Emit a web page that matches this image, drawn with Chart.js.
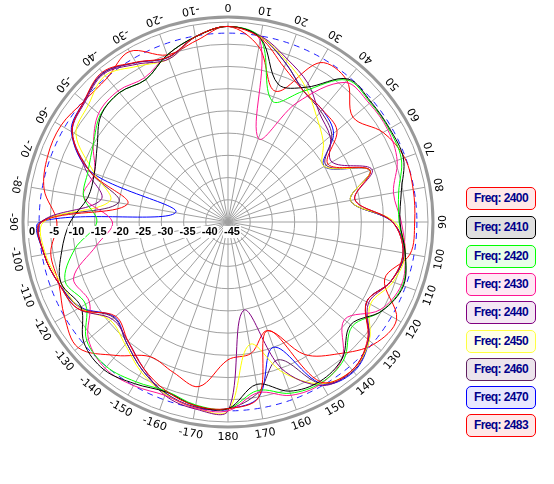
<!DOCTYPE html>
<html>
<head>
<meta charset="utf-8">
<script src="https://cdn.jsdelivr.net/npm/chart.js@4/dist/chart.umd.min.js"></script>
<style>
  body { margin: 0; background: #fff; font-family: "DejaVu Sans", sans-serif; }
  #wrap { position: relative; width: 554px; height: 484px; }
  #polar { position: absolute; left: 0; top: 0; }
  .leg { position: absolute; left: 466px; width: 68px; height: 21px; border: 1px solid; border-radius: 5px;
         font: bold 12px "Liberation Sans", Arial, sans-serif; color: #00008b; line-height: 21px; text-align: center; letter-spacing: -0.6px; }
</style>
</head>
<body>
<div id="wrap">
  <canvas id="polar" width="456" height="444"></canvas>
</div>
<script>
// angles, clockwise from top
const angles = [0,10,20,30,40,50,60,70,80,90,100,110,120,130,140,150,160,170,180,
  -170,-160,-150,-140,-130,-120,-110,-100,-90,-80,-70,-60,-50,-40,-30,-20,-10];
const radialTicks = [0,-5,-10,-15,-20,-25,-30,-35,-40,-45];
const freqs = ['Freq: 2400','Freq: 2410','Freq: 2420','Freq: 2430','Freq: 2440','Freq: 2450','Freq: 2460','Freq: 2470','Freq: 2483'];

const f2400 = [-1,-3,-8,-11,-12,-13,-19,-11,-16,-8,-5,-6,-9,-4,-1.5,-3.5,-19,-5,-3,-3,-4.5,-7,-10,-12,-6,-4.5,-3,-3,-22,-12,-4.5,-2.7,-1,-3.5,-5.5,-2.7];
const f2410 = [-1,-3,-12,-10,-3,-3,-3,-3,-5.4,-6.3,-4.5,-3,-5,-9,-5,-3.6,-4.5,-7.9,-3,-3,-4.3,-3,-1.6,-2.7,-6.8,-5,-7,-9.5,-13,-13,-11,-7.7,-7,-8,-5,-2.7];
const f2420 = [-1,-3,-16,-11,-3.3,-3.2,-3.2,-3.5,-6,-6.5,-4.5,-3.2,-5,-8.5,-4.5,-3.2,-4,-6.5,-3,-3.2,-4.5,-3.5,-2.5,-3.5,-8,-6,-10,-15.5,-12,-11.5,-10,-7.5,-7,-8,-5,-2.7];
const f2430 = [-1,-3.5,-25,-14,-4,-3.5,-3.5,-4.5,-7.2,-6,-4.5,-3.5,-5.5,-10.8,-5,-3,-3.5,-6,-2.5,-2.5,-3.5,-2.5,-2,-4,-9,-8,-15,-19,-12,-13,-10,-7,-6.5,-7.5,-5,-2.7];
const f2440 = [-1,-2.5,-6,-9,-13,-15,-18,-10.5,-16,-8,-5,-6,-8.5,-3.8,-1.5,-2.5,-10,-24.8,-2.5,-2.3,-3.5,-7,-10,-11,-6,-4.5,-3,-3,-16,-11,-4.5,-3,-1.5,-4,-6,-2.7];
const f2450 = [-1,-2.7,-6.5,-10,-14,-17,-20,-11,-17,-7.5,-4.5,-5.5,-8,-3.5,-1.5,-3,-9,-17,-2.5,-2.5,-3.8,-6,-9,-10.5,-6.5,-5,-3.3,-3.5,-18,-13,-5.5,-4,-2,-4.5,-6,-2.7];
const f2460 = [-1,-2.7,-7,-11,-12.5,-14.5,-19.5,-11,-17,-8,-4.7,-6,-9,-3.7,-1.2,-3,-12,-6,-3,-2.7,-4,-6.5,-9.5,-11.5,-6.5,-4.5,-3,-2.8,-20,-12,-4.5,-2.8,-1.3,-3.6,-5.6,-2.7];
const f2470 = [-1,-2.7,-7,-11,-12,-14,-20,-11,-17,-8,-4.7,-6,-9,-3.6,-1,-3,-15,-5,-3,-2.7,-4,-6.5,-9.5,-11.7,-6.7,-4.5,-3,-2.7,-33,-12.4,-4.3,-2.7,-1.2,-3.6,-5.6,-2.7];
const f2483 = [-1,-5,-13.7,-3.6,-3.4,-8.3,-4.7,-2.7,-2.7,-3,-3.4,-7.5,-1.2,-2.2,-6.3,-10.6,-19,-15,-14,-7.4,-9,-10,-5.8,-1,-2.5,-4.5,-4.5,-6.5,-3,-1.8,-1.6,-2.7,-2.7,-0.7,-5,-3.6];

const series = [f2400,f2410,f2420,f2430,f2440,f2450,f2460,f2470,f2483];
const lineColors = ['#ff0000','#000000','#00ff00','#ff1493','#800080','#ffff00','#602060','#0000ff','#ff0000'];
const boxBg = ['#ffe8e8','#e0e0e0','#e8ffe8','#ffe8f4','#f4e8f4','#ffffe8','#ece4ec','#e8e8ff','#ffe8e8'];
const boxTop = [187,216,245,273,301,330,358,386,414];

const wrap = document.getElementById('wrap');
freqs.forEach((name, i) => {
  const d = document.createElement('div');
  d.className = 'leg';
  d.style.top = boxTop[i] + 'px';
  d.style.borderColor = lineColors[i] === '#ffff00' ? '#ffff40' : lineColors[i];
  d.style.background = boxBg[i];
  d.textContent = name;
  wrap.appendChild(d);
});

const decor = {
  id: 'decor',
  beforeDatasetsDraw(chart) {
    const s = chart.scales.r, c = chart.ctx;
    c.save();
    c.strokeStyle = '#2020ff';
    c.lineWidth = 1;
    c.setLineDash([6, 5]);
    c.beginPath();
    c.arc(s.xCenter, s.yCenter, s.getDistanceFromCenterForValue(-2.5), 0, Math.PI * 2);
    c.stroke();
    c.restore();
  },
  afterDatasetsDraw(chart) {
    const s = chart.scales.r, c = chart.ctx;
    c.save();
    c.strokeStyle = '#999';
    c.lineWidth = 3;
    c.beginPath();
    c.arc(s.xCenter, s.yCenter, s.drawingArea + 5, 0, Math.PI * 2);
    c.stroke();
    // angle labels, rotated tangentially
    c.fillStyle = '#000';
    c.font = '11px "DejaVu Sans", sans-serif';
    c.textAlign = 'center';
    c.textBaseline = 'middle';
    angles.forEach(a => {
      const t = a * Math.PI / 180;
      const r = s.drawingArea + 15;
      c.save();
      c.translate(s.xCenter + r * Math.sin(t), s.yCenter - r * Math.cos(t));
      c.rotate(t + Math.PI);
      c.fillText(String(a), 0, 0);
      c.restore();
    });
    // radial tick labels along the left axis
    c.font = 'bold 11px "Liberation Sans", Arial, sans-serif';
    radialTicks.forEach(v => {
      const x = s.xCenter - s.getDistanceFromCenterForValue(v) + 4;
      const y = s.yCenter + 10;
      const w = c.measureText(String(v)).width;
      c.fillStyle = '#fff';
      c.fillRect(x - w / 2 - 1, y - 6, w + 2, 12);
      c.fillStyle = '#000';
      c.fillText(String(v), x, y);
    });
    c.restore();
  }
};

new Chart(document.getElementById('polar'), {
  type: 'radar',
  data: {
    labels: angles.map(String),
    datasets: series.map((d, i) => ({
      label: freqs[i],
      data: d,
      borderColor: lineColors[i],
      borderWidth: 1,
      pointRadius: 0,
      fill: false,
      tension: 0.35
    }))
  },
  options: {
    responsive: false,
    animation: false,
    layout: { padding: { left: 28, right: 28, top: 22, bottom: 22 } },
    plugins: { legend: { display: false }, tooltip: { enabled: false } },
    scales: {
      r: {
        min: -45, max: 0,
        ticks: { display: false, stepSize: 5 },
        grid: { color: '#a0a0a0', lineWidth: 1, circular: true },
        angleLines: { color: '#a0a0a0' },
        pointLabels: { display: false }
      }
    }
  },
  plugins: [decor]
});
</script>
</body>
</html>
